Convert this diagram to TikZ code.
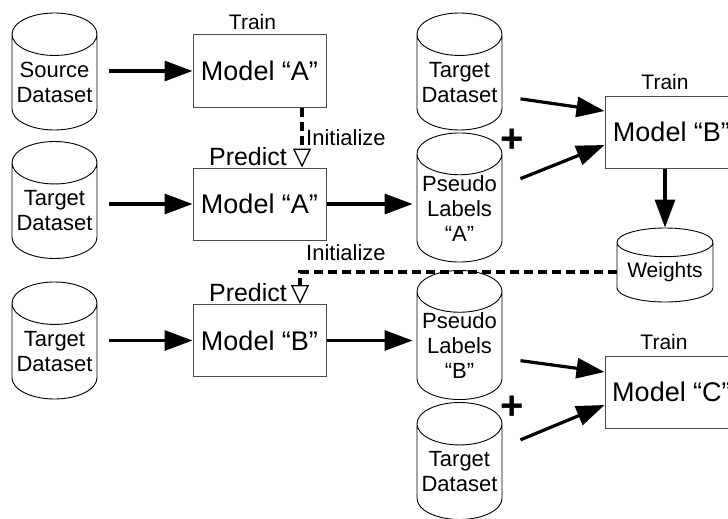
\documentclass[tikz,border=0pt]{standalone}
\usepackage{fontspec}
\setmainfont{Liberation Sans}
\usepackage{tikz}
\usetikzlibrary{arrows.meta}
\usetikzlibrary{positioning}
\usetikzlibrary{shapes.geometric}
\tikzset{
    arrow/.style={-{Triangle[length=28pt,width=20pt]}, line width=3.2pt},
    initarrow/.style={-{Triangle[open,length=19pt,width=18pt,line width=1.3pt]},
      line width=3.8pt, dash pattern=on 9pt off 5pt},
    box/.style = {
      draw=black!70,
      line width=1pt,
      rectangle,
      minimum width=133pt,
      minimum height=72pt,
      font=\fontsize{27}{30}\selectfont
    },
    dataset/.style = {
      draw,
      line width=0.9pt,
      cylinder,
      shape border rotate=90,
      aspect=0.56,
      minimum width=85pt,
      minimum height=117pt,
      inner sep=0pt,
      align=center,
      font=\fontsize{22}{25}\selectfont
    },
    lbl/.style={inner sep=0pt, font=\fontsize{21}{24}\selectfont},
    plus/.style={inner sep=0pt, font=\fontsize{40}{40}\selectfont\bfseries},
}
\begin{document}
\begin{tikzpicture}[x=1pt, y=-1pt]
      \useasboundingbox (0,0) rectangle (728,519);
      \clip (0,0) rectangle (728,519);

      \node[dataset, anchor=shape center] (source) at (54.5,71.5) {Source\\Dataset};
      \node[dataset, anchor=shape center] (target1) at (54.5,200) {Target\\Dataset};
      \node[dataset, anchor=shape center] (target2) at (54.5,340.5) {Target\\Dataset};
      \node[dataset, anchor=shape center] (targetB) at (459.5,71.5) {Target\\Dataset};
      \node[dataset, anchor=shape center] (pseudoA) at (459.5,197.5) {Pseudo\\Labels\\“A”};
      \node[dataset, anchor=shape center] (pseudoB) at (459.5,335) {Pseudo\\Labels\\“B”};
      \node[dataset, anchor=shape center] (targetC) at (459.5,461) {Target\\Dataset};
      \node[dataset, anchor=shape center, minimum width=96pt, minimum height=74pt,
            aspect=0.38, font=\fontsize{21}{24}\selectfont] (weights) at (665,265) {Weights};

      \node[box] (trainA) at (259.5,71) {Model “A”};
      \node[box] (predictA) at (259.5,204) {Model “A”};
      \node[box] (predictB) at (259.5,340.5) {Model “B”};
      \node[box] (trainB) at (671.5,132) {Model “B”};
      \node[box] (trainC) at (671.5,392) {Model “C”};

      \node[lbl, above=5pt of trainA, xshift=-7pt] (trainAlbl) {Train};
      \node[lbl, above=6pt of trainB, xshift=-6.5pt] (trainBlbl) {Train};
      \node[lbl, above=6pt of trainC, xshift=-7.5pt] (trainClbl) {Train};
      \node[lbl, above=2pt of predictA, xshift=-11.5pt, font=\fontsize{25}{28}\selectfont] (predictAlbl) {Predict};
      \node[lbl, above=2pt of predictB, xshift=-11.5pt, font=\fontsize{25}{28}\selectfont] (predictBlbl) {Predict};
      \node[lbl, anchor=west, font=\fontsize{22}{25}\selectfont] (initA) at (306,137.5) {Initialize};
      \node[lbl, anchor=west, font=\fontsize{22}{25}\selectfont] (initB) at (306,253) {Initialize};
      \node[plus] (plusB) at (512,141) {+};
      \node[plus] (plusC) at (512,408) {+};

      \draw[arrow, shorten <=12pt] (source.east |- trainA) -- (trainA.west);
      \draw[arrow, shorten <=12pt] (target1.east |- predictA) -- (predictA.west);
      \draw[arrow, shorten <=12pt] (target2.east |- predictB) -- (predictB.west);
      \draw[arrow, shorten >=4pt] (predictA.east) -- (pseudoA.west |- predictA);
      \draw[arrow, shorten >=4pt] (predictB.east) -- (pseudoB.west |- predictB);

      \draw[arrow] ([xshift=18pt,yshift=-16.5pt]targetB.east) -- ([yshift=21pt]trainB.west);
      \draw[arrow] ([xshift=18pt,yshift=29.5pt]pseudoA.east) -- ([yshift=-13pt]trainB.west);
      \draw[arrow] ([xshift=18pt,yshift=-15pt]pseudoB.east) -- ([yshift=20pt]trainC.west);
      \draw[arrow] ([xshift=18pt,yshift=32pt]targetC.east) -- ([yshift=-13pt]trainC.west);

      \draw[arrow] (weights.north |- trainB.south) -- (weights.north);

      \draw[initarrow] ([xshift=42.5pt]trainA.south) -- ([xshift=42.5pt]predictA.north);
      \draw[initarrow] (weights.west) -| ([xshift=40.5pt]predictB.north);
\end{tikzpicture}
\end{document}
